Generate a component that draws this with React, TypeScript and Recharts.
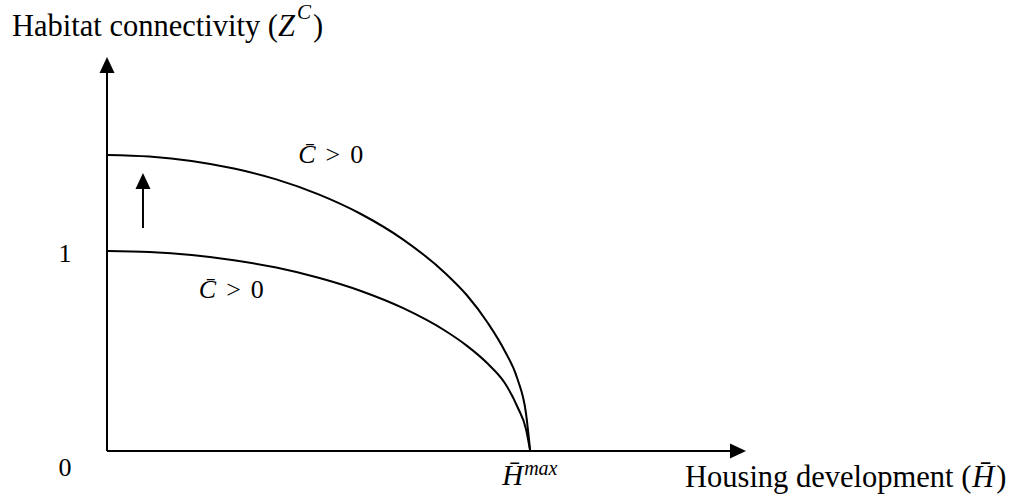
import { LineChart, Line, XAxis, YAxis, ReferenceLine, ReferenceDot } from 'recharts'

// housing development as a share of the maximum (H̄ / H̄max)
const housing = [0, 0.1, 0.2, 0.3, 0.4, 0.5, 0.6, 0.7, 0.8, 0.85, 0.9, 0.94, 0.97, 0.99, 1]
// connectivity frontier before and after the shift
const connectivityLow = [1.0, 0.995, 0.98, 0.954, 0.917, 0.866, 0.8, 0.714, 0.6, 0.527, 0.436, 0.34, 0.22, 0.11, 0]
const connectivityHigh = [1.48, 1.472, 1.45, 1.412, 1.358, 1.283, 1.185, 1.057, 0.888, 0.78, 0.64, 0.5, 0.36, 0.19, 0]

const yTicks = [0, 1]
const xTicks = [1]
const xMax = 1.51
const yMax = 1.97

// upward shift arrow between the two frontiers
const shiftAt = 0.085
const shiftFrom = 1.115
const shiftTo = 1.39

// where the two "C̄ > 0" labels sit
const highLabelAt = { x: 0.452, y: 1.44 }
const lowLabelAt = { x: 0.217, y: 0.765 }

const data = housing.map((h, i) => ({ h, low: connectivityLow[i], high: connectivityHigh[i] }))

const serif = '"Liberation Serif", "Times New Roman", serif'

function Arrow(p: any) {
  const { x1, y1, x2, y2 } = p
  const len = Math.hypot(x2 - x1, y2 - y1) || 1
  const ux = (x2 - x1) / len
  const uy = (y2 - y1) / len
  const head = 16
  const half = 7.5
  const bx = x2 - ux * head
  const by = y2 - uy * head
  return (
    <g>
      <line x1={x1} y1={y1} x2={bx} y2={by} stroke="#000" strokeWidth={2} />
      <polygon
        points={`${x2},${y2} ${bx - uy * half},${by + ux * half} ${bx + uy * half},${by - ux * half}`}
        fill="#000"
      />
    </g>
  )
}

function YTick(p: any) {
  const { x, y, payload } = p
  const dy = payload.value === 0 ? 16 : 2
  return (
    <text x={x - 42} y={y + dy} dy="0.35em" textAnchor="middle" fontFamily={serif} fontSize={26} fill="#000">
      {payload.value}
    </text>
  )
}

function XTick(p: any) {
  const { x, y } = p
  return (
    <text x={x - 28} y={y + 34} fontFamily={serif} fill="#000">
      <tspan fontStyle="italic" fontSize={29}>{'H\u0304'}</tspan>
      <tspan fontStyle="italic" fontSize={20} dy={-10} dx={1}>max</tspan>
    </text>
  )
}

function CondLabel(p: any) {
  const { viewBox } = p
  return (
    <text x={viewBox.x} y={viewBox.y} fontFamily={serif} fontSize={26} fill="#000">
      <tspan fontStyle="italic">{'C\u0304'}</tspan>
      <tspan dx={10}>&gt;</tspan>
      <tspan dx={10}>0</tspan>
    </text>
  )
}

function YTitle(p: any) {
  const { viewBox } = p
  return (
    <text x={viewBox.x + 12} y={viewBox.y - 21} fontFamily={serif} fontSize={30.5} fill="#000">
      <tspan>Habitat connectivity (</tspan>
      <tspan fontStyle="italic">Z</tspan>
      <tspan fontStyle="italic" fontSize={21} dy={-17} dx={2}>C</tspan>
      <tspan dy={17} dx={2}>)</tspan>
    </text>
  )
}

function XTitle(p: any) {
  const { viewBox } = p
  return (
    <text x={viewBox.x + 578} y={viewBox.y + 36} fontFamily={serif} fontSize={30.5} fill="#000">
      <tspan>Housing development (</tspan>
      <tspan fontStyle="italic" dx={1}>{'H\u0304'}</tspan>
      <tspan dx={2}>)</tspan>
    </text>
  )
}

export default function App() {
  return (
    <div style={{ position: 'absolute', left: 0, top: 0, background: '#fff' }}>
      <LineChart width={1015} height={497} data={data} margin={{ top: 57, right: 269, bottom: 16, left: 0 }}>
        <XAxis
          dataKey="h"
          type="number"
          domain={[0, xMax]}
          ticks={xTicks}
          axisLine={false}
          tickLine={false}
          tickSize={0}
          tickMargin={0}
          height={30}
          tick={<XTick />}
          label={{ content: <XTitle /> }}
        />
        <YAxis
          type="number"
          domain={[0, yMax]}
          ticks={yTicks}
          axisLine={false}
          tickLine={false}
          tickSize={0}
          tickMargin={0}
          width={107}
          tick={<YTick />}
          label={{ content: <YTitle /> }}
        />
        <ReferenceLine segment={[{ x: 0, y: 0 }, { x: 0, y: yMax }]} ifOverflow="visible" shape={<Arrow />} />
        <ReferenceLine segment={[{ x: 0, y: 0 }, { x: xMax, y: 0 }]} ifOverflow="visible" shape={<Arrow />} />
        <ReferenceLine segment={[{ x: shiftAt, y: shiftFrom }, { x: shiftAt, y: shiftTo }]} ifOverflow="visible" shape={<Arrow />} />
        <Line dataKey="high" type="monotone" stroke="#000" strokeWidth={2} dot={false} isAnimationActive={false} />
        <Line dataKey="low" type="monotone" stroke="#000" strokeWidth={2} dot={false} isAnimationActive={false} />
        <ReferenceDot x={highLabelAt.x} y={highLabelAt.y} r={0} fill="none" stroke="none" label={<CondLabel />} />
        <ReferenceDot x={lowLabelAt.x} y={lowLabelAt.y} r={0} fill="none" stroke="none" label={<CondLabel />} />
      </LineChart>
    </div>
  )
}
